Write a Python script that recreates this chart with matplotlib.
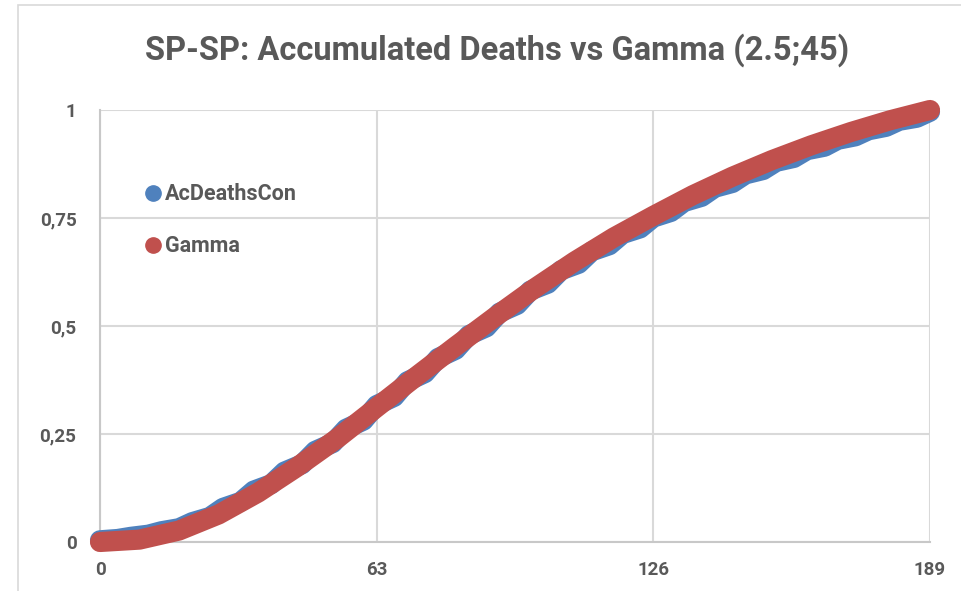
import matplotlib
matplotlib.use("Agg")
import matplotlib.pyplot as plt
from matplotlib.patches import Rectangle
from matplotlib.lines import Line2D

# values (x = day, y = share of total)
gamma_days = [0, 9, 18, 27, 36, 45, 54, 63, 72, 81, 90, 99, 108,
              117, 126, 135, 144, 153, 162, 171, 180, 189]
gamma_vals = [0.0, 0.0055, 0.0265, 0.0637, 0.1144, 0.1745, 0.2396, 0.3116,
              0.3832, 0.4532, 0.5215, 0.5875, 0.6488, 0.7050, 0.7550, 0.8029,
              0.8456, 0.8840, 0.9184, 0.9491, 0.9765, 1.0]

deaths_days = [0, 4, 7, 11, 14, 18, 21, 25, 28, 32, 35, 39, 42, 46, 49, 53,
               56, 60, 63, 67, 70, 74, 77, 81, 84, 88, 91, 95, 98, 102, 105,
               109, 112, 116, 119, 123, 126, 130, 133, 137, 140, 144, 147,
               151, 154, 158, 161, 165, 168, 172, 175, 179, 182, 186, 189]
deaths_vals = [0.004, 0.007, 0.012, 0.017, 0.025, 0.032, 0.046, 0.058, 0.079,
               0.093, 0.119, 0.134, 0.163, 0.180, 0.211, 0.229, 0.262, 0.281,
               0.317, 0.336, 0.372, 0.391, 0.426, 0.445, 0.479, 0.497, 0.531,
               0.549, 0.582, 0.598, 0.629, 0.644, 0.673, 0.687, 0.713, 0.726,
               0.751, 0.764, 0.787, 0.799, 0.820, 0.831, 0.851, 0.861, 0.880,
               0.889, 0.907, 0.915, 0.931, 0.939, 0.953, 0.961, 0.975, 0.982,
               0.996]

x_ticks = [0, 63, 126, 189]
y_ticks = [0, 0.25, 0.5, 0.75, 1]
y_tick_labels = ["0", "0,25", "0,5", "0,75", "1"]

title = "SP-SP: Accumulated Deaths vs Gamma (2.5;45)"
series_names = ["AcDeathsCon", "Gamma"]
blue = "#4F81BD"
red = "#C0504D"
text_grey = "#595959"
grid_grey = "#D9D9D9"

plt.rcParams["font.family"] = ["Roboto", "DejaVu Sans"]

W, H = 962, 591
fig = plt.figure(figsize=(W / 100, H / 100), dpi=100)
ax = fig.add_axes([100 / W, 1 - 542 / H, 830 / W, 432 / H])

# chart area border (runs off the right/bottom edge of the crop)
fig.add_artist(Rectangle((18 / W, -0.2), 1.2, 1 - 5 / H + 0.2,
                         transform=fig.transFigure, fill=False,
                         edgecolor=grid_grey, linewidth=1.2))

lw = 14.5
ax.plot(deaths_days, deaths_vals, color=blue, linewidth=lw, clip_on=False,
        solid_capstyle="round", solid_joinstyle="round", zorder=3)
ax.plot(gamma_days, gamma_vals, color=red, linewidth=lw, clip_on=False,
        solid_capstyle="round", solid_joinstyle="round", zorder=4)

ax.set_xlim(0, 189)
ax.set_ylim(0, 1)
ax.set_xticks(x_ticks)
ax.set_xticklabels([str(t) for t in x_ticks])
ax.set_yticks(y_ticks)
ax.set_yticklabels(y_tick_labels)
ax.tick_params(length=0, labelsize=13.5, labelcolor=text_grey)
ax.tick_params(axis="x", pad=14)
ax.tick_params(axis="y", pad=17)
for lab in ax.get_xticklabels() + ax.get_yticklabels():
    lab.set_fontweight("bold")

ax.grid(True, color=grid_grey, linewidth=1.5)
ax.set_axisbelow(True)
for side in ["top", "right"]:
    ax.spines[side].set_visible(False)
for side in ["left", "bottom"]:
    ax.spines[side].set_color("#C8C8C8")
    ax.spines[side].set_linewidth(1.5)

fig.text(497 / W, 1 - 50 / H, title, ha="center", va="center",
         fontsize=23.5, fontweight="bold", color=text_grey)

# legend placed as in the reference
handles = [Line2D([], [], linestyle="none", marker="o", markersize=11,
                  markerfacecolor=c, markeredgecolor=c) for c in (blue, red)]
leg = fig.legend(handles, series_names, loc="upper left",
                 bbox_to_anchor=(128 / W, 1 - 164 / H), frameon=False,
                 prop={"weight": "bold", "size": 15.5}, labelcolor=text_grey,
                 handlelength=0.5, handletextpad=0.3, labelspacing=1.38)

fig.savefig("out.png", dpi=100)
